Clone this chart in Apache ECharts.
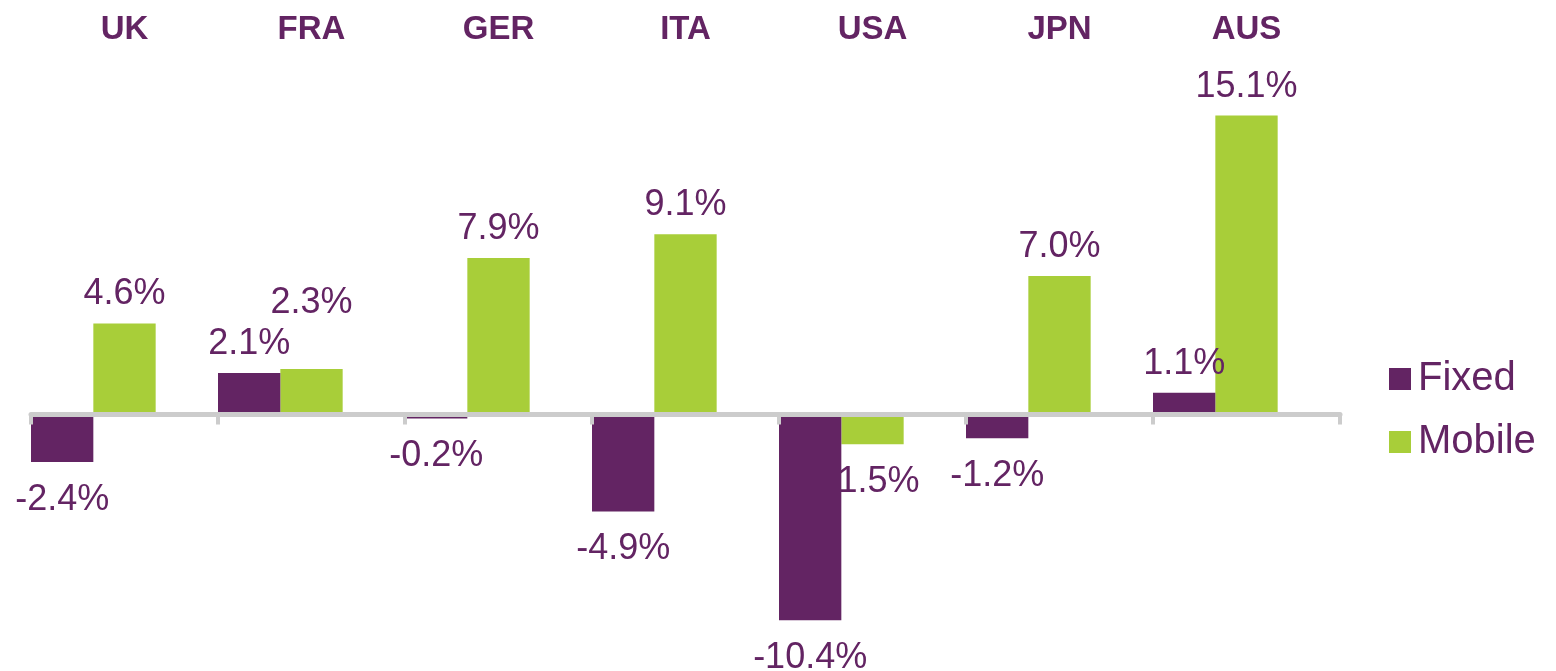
<!DOCTYPE html>
<html>
<head>
<meta charset="utf-8">
<script src="https://cdn.jsdelivr.net/npm/echarts@6/dist/echarts.min.js"></script>
<style>
  html, body { margin: 0; padding: 0; background: #ffffff; }
  #chart { width: 1556px; height: 671px; }
</style>
</head>
<body>
<div id="chart"></div>
<script>
// ---- data ----
const categories = ['UK', 'FRA', 'GER', 'ITA', 'USA', 'JPN', 'AUS'];
const fixedValues = [-2.4, 2.1, -0.2, -4.9, -10.4, -1.2, 1.1];
const mobileValues = [4.6, 2.3, 7.9, 9.1, -1.5, 7.0, 15.1];
const seriesNames = ['Fixed', 'Mobile'];

// ---- styles ----
const PURPLE = '#632463';
const GREEN = '#A8CE39';
const AXIS_GREY = '#CCCCCC';
const FONT = 'Arial, "Liberation Sans", sans-serif';

function labelFor(v, extra) {
  const neg = v < 0;
  return Object.assign({
    position: neg ? 'bottom' : 'top',
    distance: neg ? 20 : 11
  }, extra || {});
}

function buildData(values, overrides) {
  return values.map((v, i) => ({
    value: v,
    label: labelFor(v, overrides && overrides[i])
  }));
}

const commonLabel = {
  show: true,
  color: PURPLE,
  fontSize: 36,
  fontFamily: FONT,
  formatter: p => p.value.toFixed(1) + '%'
};

const chart = echarts.init(document.getElementById('chart'), null, { renderer: 'canvas' });

chart.setOption({
  animation: false,
  backgroundColor: '#ffffff',
  textStyle: { fontFamily: FONT },
  grid: { left: 31, right: 216, top: 78, bottom: 19, containLabel: false },
  legend: {
    data: seriesNames,
    orient: 'vertical',
    left: 1384,
    top: 354,
    itemWidth: 22,
    itemHeight: 22,
    itemGap: 23,
    icon: 'rect',
    textStyle: { fontSize: 40, color: PURPLE, fontFamily: FONT, padding: [0, 0, 0, 2] }
  },
  xAxis: [
    {
      type: 'category',
      data: categories,
      position: 'bottom',
      z: 5,
      axisLine: { onZero: true, lineStyle: { color: AXIS_GREY, width: 5 } },
      axisTick: { show: true, length: 10, lineStyle: { color: AXIS_GREY, width: 4 } },
      axisLabel: { show: false },
      splitLine: { show: false }
    },
    {
      type: 'category',
      data: categories,
      position: 'top',
      axisLine: { show: false },
      axisTick: { show: false },
      axisLabel: { fontSize: 33, fontWeight: 'bold', color: PURPLE, fontFamily: FONT, margin: 32 },
      splitLine: { show: false }
    }
  ],
  yAxis: {
    type: 'value',
    min: -12,
    max: 17,
    show: false,
    splitLine: { show: false }
  },
  series: [
    {
      name: seriesNames[0],
      type: 'bar',
      xAxisIndex: 0,
      z: 3,
      barGap: '0%',
      barCategoryGap: '0%',
      itemStyle: { color: PURPLE },
      label: commonLabel,
      data: buildData(fixedValues)
    },
    {
      name: seriesNames[1],
      type: 'bar',
      xAxisIndex: 0,
      z: 2,
      barGap: '0%',
      barCategoryGap: '0%',
      itemStyle: { color: GREEN },
      label: commonLabel,
      data: buildData(mobileValues, { 1: { offset: [0, -37] } })
    },
    {
      name: 'spacer',
      type: 'bar',
      xAxisIndex: 0,
      barGap: '0%',
      barCategoryGap: '0%',
      silent: true,
      data: categories.map(() => null)
    }
  ]
});
</script>
</body>
</html>
